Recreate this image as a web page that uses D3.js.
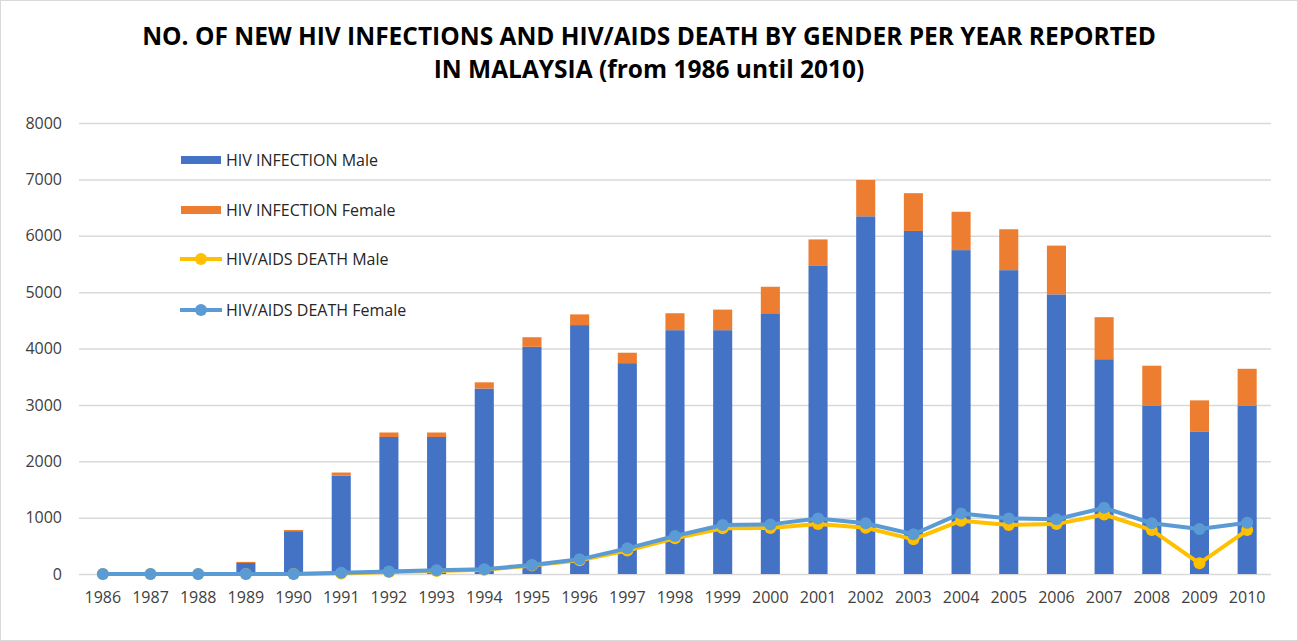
<!DOCTYPE html>
<html><head><meta charset="utf-8">
<script src="https://cdn.jsdelivr.net/npm/d3@7"></script>
<style>
html,body{margin:0;padding:0;background:#fff;}
svg{display:block;font-family:"Open Sans",sans-serif;}
</style></head>
<body>
<svg id="chart" width="1298" height="641"></svg>
<script>
const years = [1986,1987,1988,1989,1990,1991,1992,1993,1994,1995,1996,1997,1998,1999,2000,2001,2002,2003,2004,2005,2006,2007,2008,2009,2010];
const hivMale   = [0,0,0,195,760,1745,2430,2430,3290,4030,4415,3740,4325,4325,4625,5475,6345,6085,5745,5390,4960,3810,2990,2530,2990];
const hivFemale = [0,0,0,20,20,55,80,80,110,170,190,185,300,365,470,460,645,670,680,725,865,745,705,550,650];
const deathMale   = [0,0,0,0,0,10,35,55,75,150,245,415,635,810,815,885,820,615,945,870,885,1055,780,190,780];
const deathFemale = [0,0,0,0,0,20,45,65,85,160,260,455,675,870,880,985,900,705,1075,985,970,1175,900,800,910];
const yTicks = [0,1000,2000,3000,4000,5000,6000,7000,8000];
const titleLines = ["NO. OF NEW HIV INFECTIONS AND HIV/AIDS DEATH BY GENDER PER YEAR REPORTED","IN MALAYSIA (from 1986 until 2010)"];
const legendLabels = ["HIV INFECTION Male","HIV INFECTION Female","HIV/AIDS DEATH Male","HIV/AIDS DEATH Female"];
const colors = {male:"#4472C4", female:"#ED7D31", dMale:"#FFC000", dFemale:"#5B9BD5"};

const svg = d3.select("#chart");
const W = 1298, H = 641;
svg.append("rect").attr("x",0.5).attr("y",0.5).attr("width",W-1).attr("height",H-1)
  .attr("fill","#fff").attr("stroke","#d9d9d9");

const m = {left:79, right:1271, top:123, bottom:574};
const x = d3.scaleBand().domain(years).range([m.left, m.right]).paddingInner(0.6).paddingOuter(0.3);
const xc = d => x(d) + x.bandwidth()/2;
const y = d3.scaleLinear().domain([0,8000]).range([m.bottom, m.top]);

// title
svg.append("g").selectAll("text").data(titleLines).join("text")
  .attr("x", 649).attr("y",(d,i)=>45+i*33)
  .attr("text-anchor","middle").attr("font-weight","bold").attr("font-size","24.5px")
  .attr("fill","#000").text(d=>d);

// gridlines
const yAxis = d3.axisLeft(y).tickValues(yTicks).tickSize(-(m.right-m.left)).tickPadding(17).tickFormat(d3.format("d"));
const gy = svg.append("g").attr("transform",`translate(${m.left},0)`).call(yAxis);
gy.select(".domain").remove();
gy.selectAll(".tick line").attr("stroke","#d9d9d9").attr("stroke-width",1.5);
gy.selectAll(".tick text").attr("font-size","16px").attr("fill","#404040").attr("font-family","Open Sans, sans-serif");

// x axis
const xAxis = d3.axisBottom(x).tickSize(0).tickPadding(18);
const gx = svg.append("g").attr("transform",`translate(0,${m.bottom})`).call(xAxis);
gx.select(".domain").remove();
gx.selectAll(".tick text").attr("font-size","16px").attr("fill","#404040").attr("font-family","Open Sans, sans-serif");

// bars
const bars = svg.append("g");
bars.selectAll(".m").data(years).join("rect")
  .attr("x", d=>x(d)).attr("width", x.bandwidth())
  .attr("y",(d,i)=>y(hivMale[i])).attr("height",(d,i)=>y(0)-y(hivMale[i]))
  .attr("fill",colors.male);
bars.selectAll(".f").data(years).join("rect").attr("class","f")
  .attr("x", d=>x(d)).attr("width", x.bandwidth())
  .attr("y",(d,i)=>y(hivMale[i]+hivFemale[i])).attr("height",(d,i)=>y(hivMale[i])-y(hivMale[i]+hivFemale[i]))
  .attr("fill",colors.female);

// lines
function drawLine(vals,color){
  const line = d3.line().x((d,i)=>xc(years[i])).y(d=>y(d));
  svg.append("path").datum(vals).attr("d",line).attr("fill","none")
    .attr("stroke",color).attr("stroke-width",4).attr("stroke-linejoin","round");
  svg.append("g").selectAll("circle").data(vals).join("circle")
    .attr("cx",(d,i)=>xc(years[i])).attr("cy",d=>y(d)).attr("r",6).attr("fill",color);
}
drawLine(deathMale, colors.dMale);
drawLine(deathFemale, colors.dFemale);

// legend
const lg = svg.append("g");
const ly = [160,210,259,310];
const types = ["bar","bar","line","line"];
const lcol = [colors.male, colors.female, colors.dMale, colors.dFemale];
legendLabels.forEach((lab,i)=>{
  if(types[i]==="bar"){
    lg.append("rect").attr("x",181).attr("y",ly[i]-4).attr("width",40).attr("height",8).attr("fill",lcol[i]);
  } else {
    lg.append("line").attr("x1",180).attr("x2",222).attr("y1",ly[i]).attr("y2",ly[i]).attr("stroke",lcol[i]).attr("stroke-width",4);
    lg.append("circle").attr("cx",201).attr("cy",ly[i]).attr("r",6).attr("fill",lcol[i]);
  }
  lg.append("text").attr("x",226).attr("y",ly[i]+6).attr("font-size","16px").attr("fill","#262626").text(lab);
});
</script>
</body></html>
